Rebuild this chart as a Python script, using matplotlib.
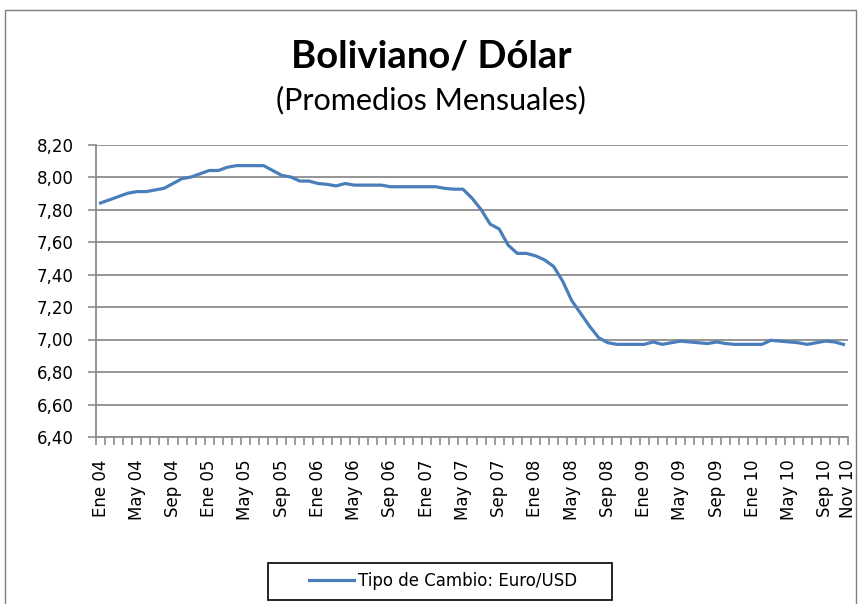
import numpy as np
import matplotlib
matplotlib.use('Agg')
import matplotlib.pyplot as plt
from matplotlib.patches import Rectangle
from matplotlib.ticker import FixedLocator, FuncFormatter

# promedios mensuales Ene 04 .. Nov 10
tipo_cambio = [
    7.84, 7.86, 7.88, 7.90, 7.91, 7.91, 7.92, 7.93, 7.96, 7.99, 8.00, 8.02,
    8.04, 8.04, 8.06, 8.07, 8.07, 8.07, 8.07, 8.04, 8.01, 8.00, 7.975, 7.975,
    7.96, 7.955, 7.945, 7.96, 7.95, 7.95, 7.95, 7.95, 7.94, 7.94, 7.94, 7.94,
    7.94, 7.94, 7.93, 7.925, 7.925, 7.87, 7.80, 7.71, 7.68, 7.58, 7.53, 7.53,
    7.515, 7.49, 7.45, 7.36, 7.24, 7.16, 7.08, 7.01, 6.98, 6.97, 6.97, 6.97,
    6.97, 6.985, 6.97, 6.98, 6.99, 6.985, 6.98, 6.975, 6.985, 6.975, 6.97, 6.97,
    6.97, 6.97, 6.995, 6.99, 6.985, 6.98, 6.97, 6.98, 6.99, 6.985, 6.97,
]
etiquetas = ['Ene 04', 'May 04', 'Sep 04', 'Ene 05', 'May 05', 'Sep 05',
             'Ene 06', 'May 06', 'Sep 06', 'Ene 07', 'May 07', 'Sep 07',
             'Ene 08', 'May 08', 'Sep 08', 'Ene 09', 'May 09', 'Sep 09',
             'Ene 10', 'May 10', 'Sep 10', 'Nov 10']
serie = 'Tipo de Cambio: Euro/USD'

gris = '#8c8c8c'
azul = '#4a7ebb'

fig = plt.figure(figsize=(8.62, 6.04), dpi=100)
fig.patch.set_facecolor('white')

# marco del grafico
fig.patches.append(Rectangle((5/862, -0.1), 851/862, 1.1 - 10/604, transform=fig.transFigure,
                             fill=False, edgecolor='#7f7f7f', lw=1.0))

ax = fig.add_axes([96/862, 1 - 437/604, 752/862, 292.5/604])

n = len(tipo_cambio)
x = np.arange(n)
ax.plot(x, tipo_cambio, color=azul, lw=2.3, solid_joinstyle='round', zorder=3, label=serie)

ax.set_xlim(-0.5, n - 0.5)
ax.set_ylim(6.4, 8.2)
ax.set_yticks(np.arange(6.4, 8.21, 0.2))
ax.yaxis.set_major_formatter(FuncFormatter(lambda v, p: '{:.2f}'.format(v).replace('.', ',')))
ax.grid(axis='y', color=gris, lw=1.3)
ax.set_axisbelow(True)
for s in ['top', 'right']:
    ax.spines[s].set_visible(False)
for s in ['left', 'bottom']:
    ax.spines[s].set_color(gris)
    ax.spines[s].set_linewidth(1.3)

pos = list(range(0, 81, 4)) + [n - 0.55]
ax.set_xticks(pos)
ax.set_xticklabels(etiquetas, rotation=90, va='top', ha='center', fontsize=12)
ax.tick_params(axis='x', which='major', length=0, pad=16)
ax.xaxis.set_minor_locator(FixedLocator(np.arange(-0.5, n + 0.5, 1)))
ax.tick_params(axis='x', which='minor', length=6, color=gris, width=1.2)
ax.tick_params(axis='y', length=6, color=gris, width=1.2, pad=10, labelsize=12)

fig.text(0.5, 1 - 57/604, 'Boliviano/ Dólar', ha='center', va='center',
         fontsize=27.5, fontweight='bold', family='Lato')
fig.text(0.5, 1 - 100/604, '(Promedios Mensuales)', ha='center', va='center',
         fontsize=22, family='Lato')

# leyenda
fig.patches.append(Rectangle((268/862, 1 - 600/604), 344/862, 37/604, transform=fig.transFigure,
                             facecolor='white', edgecolor='black', lw=1.2))
fig.legend(loc='center', bbox_to_anchor=(443/862, 1 - 581/604), frameon=False,
           fontsize=12, handlelength=2.7, handletextpad=0.25)

fig.savefig('out.png', dpi=100, facecolor='white')
